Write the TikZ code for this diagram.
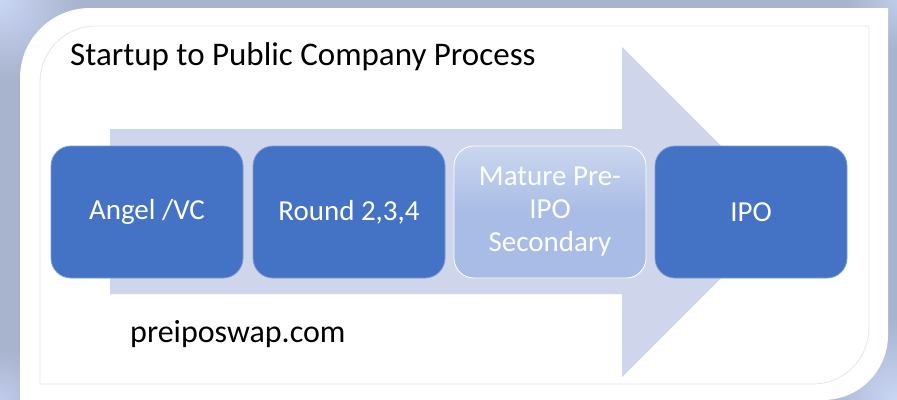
\documentclass[tikz,border=0pt]{standalone}
\usepackage{fontspec}
\setmainfont{Carlito}
\definecolor{bgc}{HTML}{A8B3CE}
\definecolor{bglight}{HTML}{C9D6F4}
\definecolor{arrowc}{HTML}{CFD5EA}
\definecolor{boxc}{HTML}{4472C4}
\definecolor{boxedge}{HTML}{7E9AD6}
\definecolor{innerline}{HTML}{E6E6E6}
\definecolor{fadetop}{HTML}{CBD7EF}
\definecolor{fadebot}{HTML}{A9BCE5}
\begin{document}
\begin{tikzpicture}[x=1pt,y=-1pt,
  stepbox/.style={rounded corners=20pt, minimum width=192pt, minimum height=132pt,
    inner sep=0pt, fill=boxc, draw=boxedge, line width=0.8pt, text=white,
    align=center, font=\fontsize{29}{33}\selectfont},
  fadedbox/.style={stepbox, fill=none, draw=white, shade, top color=fadetop,
    bottom color=fadebot, middle color=fadebot, text=white!95!fadetop},
  titletext/.style={anchor=base west, inner sep=0pt, font=\fontsize{33}{36}\selectfont, text=black}]
\useasboundingbox (0,0) rectangle (897,399);
% background
\fill[bgc] (0,0) rectangle (897,399);
\shade[inner color=bglight, outer color=bgc] (0,0) circle (80);
\shade[inner color=bglight, outer color=bgc] (897,399) circle (80);
\shade[inner color=bglight!70!bgc, outer color=bgc] (897,0) circle (50);
\shade[inner color=bglight!70!bgc, outer color=bgc] (0,399) circle (50);
% white frame
\fill[white] (20,405) -- (20,78) arc[start angle=180, end angle=270, radius=70] -- (888,8) -- (888,335)
  arc[start angle=0, end angle=90, radius=65] -- cycle;
% inner thin line
\draw[innerline, line width=0.8pt] (40,384) -- (40,82) arc[start angle=180, end angle=270, radius=56]
  -- (869,26) -- (869,328) arc[start angle=0, end angle=90, radius=56] -- cycle;
% big arrow
\fill[arrowc] (110,129) -- (622,129) -- (622,47) -- (787,212) -- (622,377) -- (622,294) -- (110,294) -- cycle;
% boxes
\node[stepbox] (angel) at (147,212) {Angel /VC};
\node[stepbox] (round) at (349,212) {Round 2,3,4};
\node[fadedbox] (mature) at (550,212) {Mature Pre-\\IPO\\Secondary};
\node[stepbox] (ipo) at (751,212) {IPO};
% texts
\node[titletext] (title) at (70,65) {Startup to Public Company Process};
\node[titletext, font=\fontsize{32}{36}\selectfont] (site) at (130,342) {preiposwap.com};
\end{tikzpicture}
\end{document}
